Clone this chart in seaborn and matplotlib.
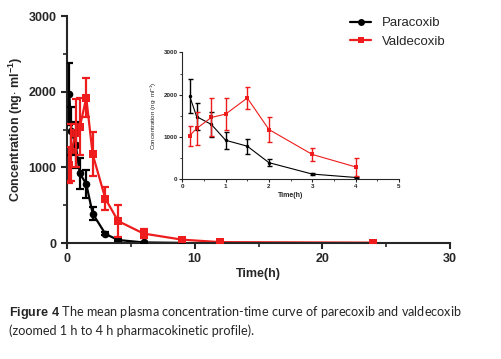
import matplotlib
matplotlib.use("Agg")
import matplotlib.pyplot as plt
import seaborn as sns
import pandas as pd
from matplotlib.ticker import MultipleLocator
from matplotlib.lines import Line2D

# === Data ===
t_para = [0.167, 0.33, 0.67, 1, 1.5, 2, 3, 4, 6, 9]
c_para = [1970, 1480, 1295, 920, 780, 390, 120, 40, 8, 2]
sd_para = [410, 320, 300, 200, 180, 90, 20, 15, 5, 2]

t_val = [0.167, 0.33, 0.67, 1, 1.5, 2, 3, 4, 6, 9, 12, 24]
c_val = [1030, 1200, 1460, 1540, 1920, 1175, 585, 290, 125, 45, 12, 5]
sd_val = [235, 380, 450, 380, 260, 290, 150, 210, 60, 25, 8, 3]

drugs = ["Paracoxib", "Valdecoxib"]
colors = {"Paracoxib": "black", "Valdecoxib": "#ee1c1c"}
markers = {"Paracoxib": "o", "Valdecoxib": "s"}

df = pd.concat([
    pd.DataFrame({"time": t_para, "conc": c_para, "sd": sd_para, "drug": "Paracoxib"}),
    pd.DataFrame({"time": t_val, "conc": c_val, "sd": sd_val, "drug": "Valdecoxib"}),
], ignore_index=True)

# === Style ===
sns.set_style("ticks")
plt.rcParams["font.family"] = ["Liberation Sans", "DejaVu Sans"]
plt.rcParams["mathtext.fontset"] = "custom"
plt.rcParams["mathtext.rm"] = "Liberation Sans"
plt.rcParams["mathtext.bf"] = "Liberation Sans:bold"

fig = plt.figure(figsize=(5.01, 3.59), dpi=100)


def draw(ax, data, ms, lw, elw, cap):
    sns.lineplot(data=data, x="time", y="conc", hue="drug", style="drug",
                 palette=colors, markers=markers, dashes=False,
                 markersize=ms, markeredgewidth=0, linewidth=lw,
                 legend=False, ax=ax)
    for d in drugs:
        sub = data[data["drug"] == d]
        ax.errorbar(sub["time"], sub["conc"], yerr=sub["sd"], fmt="none",
                    ecolor=colors[d], elinewidth=elw, capsize=cap,
                    capthick=elw, zorder=3)


# === Main axes ===
ax = fig.add_axes([0.134, 0.323, 0.764, 0.632])
draw(ax, df, ms=5.5, lw=1.6, elw=1.6, cap=3)
ax.set_xlim(0, 30)
ax.set_ylim(0, 3000)
ax.xaxis.set_major_locator(MultipleLocator(10))
ax.xaxis.set_minor_locator(MultipleLocator(5))
ax.yaxis.set_major_locator(MultipleLocator(1000))
ax.yaxis.set_minor_locator(MultipleLocator(500))
sns.despine(ax=ax)
for s in ["left", "bottom"]:
    ax.spines[s].set_linewidth(1.5)
ax.tick_params(which="major", length=4, width=1.5, labelsize=9)
ax.tick_params(which="minor", length=3, width=1.2)
for lab in ax.get_xticklabels() + ax.get_yticklabels():
    lab.set_fontweight("bold")
ax.set_xlabel("Time(h)", fontsize=9, fontweight="bold", labelpad=2)
ax.set_ylabel(r"Concentration (ng$\cdot$ ml$^{\mathbf{-1}}$)", fontsize=9,
              fontweight="bold", labelpad=3)

# === Inset (0-5 h) ===
axi = fig.add_axes([0.364, 0.501, 0.432, 0.353])
draw(axi, df[df["time"] <= 4], ms=2.5, lw=0.8, elw=1.0, cap=1.8)
axi.set_xlim(0, 5)
axi.set_ylim(0, 3000)
axi.xaxis.set_major_locator(MultipleLocator(1))
axi.xaxis.set_minor_locator(MultipleLocator(0.5))
axi.yaxis.set_major_locator(MultipleLocator(1000))
axi.yaxis.set_minor_locator(MultipleLocator(500))
sns.despine(ax=axi)
for s in ["left", "bottom"]:
    axi.spines[s].set_linewidth(0.8)
axi.tick_params(which="major", length=2, width=0.8, labelsize=4.5, pad=1.5)
axi.tick_params(which="minor", length=1.2, width=0.6)
for lab in axi.get_xticklabels() + axi.get_yticklabels():
    lab.set_fontweight("bold")
axi.set_xlabel("Time(h)", fontsize=5, fontweight="bold", labelpad=2)
axi.set_ylabel(r"Concentration (ng$\cdot$ ml$^{-1}$)", fontsize=4.5, labelpad=3)

# === Legend ===
handles = [Line2D([0], [0], color=colors[d], marker=markers[d], markersize=5,
                  markeredgewidth=0, linewidth=1.6) for d in drugs]
fig.legend(handles, drugs, loc="upper left", bbox_to_anchor=(0.675, 0.985),
           frameon=False, fontsize=9.5, handlelength=1.6, handletextpad=0.8,
           labelspacing=0.45)

# === Caption ===
fig.text(0.018, 0.13, r"$\mathbf{Figure\ 4}$ The mean plasma concentration-time curve of parecoxib and valdecoxib",
         fontsize=9.1, family=["Lato", "DejaVu Sans"], va="center")
fig.text(0.018, 0.08, "(zoomed 1 h to 4 h pharmacokinetic profile).",
         fontsize=9.1, family=["Lato", "DejaVu Sans"], va="center")

fig.savefig("out.png", dpi=100)
